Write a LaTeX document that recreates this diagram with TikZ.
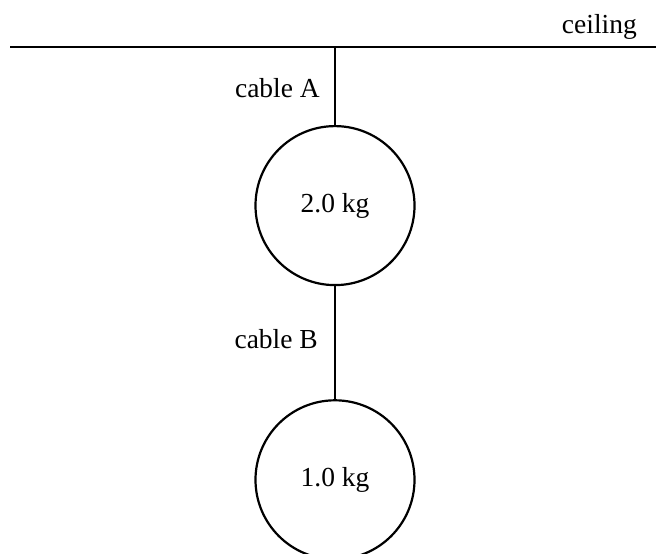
\documentclass[tikz,border=0pt]{standalone}
\usepackage{fontspec}
\setmainfont{Liberation Serif}
\usetikzlibrary{positioning}
\tikzstyle{mass} = [circle, text centered, minimum size = 159pt, draw = black, line width = 2.2pt]
\tikzstyle{label} = [inner sep = 0pt, font = \fontsize{27.5}{32}\selectfont]

\begin{document}
\begin{tikzpicture}[x = 1pt, y = -1pt]
\useasboundingbox (0,0) rectangle (656,554);
\coordinate (ceilLeft) at (10,47);
\coordinate (ceilRight) at (656,47);
\coordinate (ceilTop) at (335,47);
\node (massA) [mass, label, below = 78pt of ceilTop] {2.0 kg};
\node (massB) [mass, label, below = 113pt of massA] {1.0 kg};

\node (ceilText) [label, anchor = base east] at (637,33) {ceiling};
\node (cableAText) [label, anchor = base east] at (320,97) {cable A};
\node (cableBText) [label, anchor = base east] at (318,348) {cable B};

\draw [line width = 2.2pt] (ceilLeft) -- (ceilRight);
\draw [line width = 2.2pt] (ceilTop) -- (massA);
\draw [line width = 2.2pt] (massA) -- (massB);
\end{tikzpicture}
\end{document}
